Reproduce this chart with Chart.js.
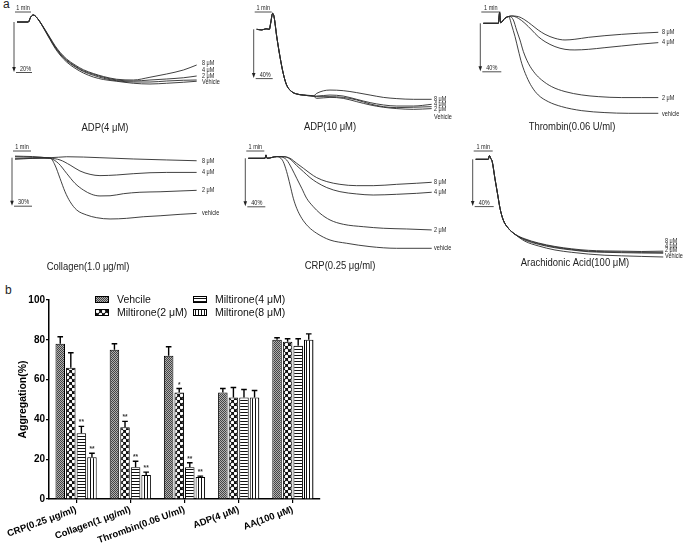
<!DOCTYPE html>
<html>
<head>
<meta charset="utf-8">
<script src="https://cdn.jsdelivr.net/npm/chart.js@4.4.1/dist/chart.umd.min.js"></script>
<style>
  body { margin: 0; background: #fff; }
  #wrap { position: relative; width: 685px; height: 547px; overflow: hidden; font-family: Arial, "Liberation Sans", sans-serif; }
  canvas { position: absolute; }
  .tag { position: absolute; font-size: 12px; color: #222; }
</style>
</head>
<body>
<div id="wrap">
  <div class="tag" style="left:3px;top:-3px">a</div>
  <div class="tag" style="left:5px;top:283px">b</div>
  <canvas id="adp4" width="230" height="140" style="left:0;top:0"></canvas>
  <canvas id="adp10" width="230" height="140" style="left:230px;top:0"></canvas>
  <canvas id="thrombin" width="230" height="140" style="left:455px;top:0"></canvas>
  <canvas id="collagen" width="230" height="140" style="left:0;top:135px"></canvas>
  <canvas id="crp" width="230" height="140" style="left:230px;top:135px"></canvas>
  <canvas id="aa" width="230" height="140" style="left:455px;top:135px"></canvas>
  <canvas id="bars" width="335" height="267" style="left:0;top:280px"></canvas>
</div>
<script>
Chart.defaults.font.family = 'Arial, "Liberation Sans", sans-serif';

// ---- panel a: aggregation traces, [minutes, % aggregation] ----
const adp4Lead = [[0, 0], [0.71, 0], [0.85, -1.9], [1.02, -2.8], [1.19, -2.1], [1.44, 0]];
const adp4M8 = [[1.75, 3.0], [2.06, 6.2], [2.38, 9.5], [2.69, 12.1], [3.1, 14.8], [3.63, 17.2], [4.15, 19.1], [4.77, 20.6], [5.4, 21.8], [6.23, 22.9], [7.27, 23.2], [8.31, 22.1], [9.35, 20.8], [10.4, 19.2], [11.23, 17.2]];
const adp4M4 = [[1.75, 3.2], [2.06, 6.5], [2.38, 9.9], [2.69, 12.5], [3.1, 15.2], [3.63, 17.6], [4.15, 19.5], [4.77, 20.9], [5.4, 22.1], [6.23, 23.2], [7.27, 23.6], [8.31, 23.2], [9.35, 22.8], [10.4, 22.3], [11.23, 21.6]];
const adp4M2 = [[1.75, 3.3], [2.06, 6.7], [2.38, 10.1], [2.69, 12.8], [3.1, 15.5], [3.63, 17.9], [4.15, 19.8], [4.77, 21.3], [5.4, 22.5], [6.23, 23.5], [7.27, 24], [8.31, 24], [9.35, 23.6], [10.4, 23.3], [11.23, 23.2]];
const adp4Veh = [[1.75, 3.5], [2.06, 7.0], [2.38, 10.5], [2.69, 13.2], [3.1, 16], [3.63, 18.5], [4.15, 20.4], [4.77, 22], [5.4, 23], [6.23, 23.7], [7.27, 24.5], [8.31, 24.8], [9.35, 24.5], [10.4, 24.1], [11.23, 23.7]];

const adp10Lead = [[0, 0], [0.3, 0.5], [0.55, -0.4], [0.745, 0], [0.82, -4.9], [0.94, -13.1], [1.02, -10.3], [1.18, 6.1], [1.37, 22.5], [1.56, 36.1], [1.76, 45.7], [2.06, 51.1], [2.35, 53], [2.74, 53.9], [3.33, 54.7]];
const adp10M8 = [[3.53, 52.5], [4.31, 49.8], [5.09, 50.3], [5.88, 51.9], [6.67, 53.9], [7.45, 55.8], [8.24, 56.8], [9.22, 57.4], [10.29, 57.4]];
const adp10M4 = [[3.53, 54.7], [4.31, 53.9], [5.09, 54.7], [5.88, 57.4], [6.67, 60.1], [7.45, 62], [8.24, 62.9], [9.22, 62.9], [10.29, 61.5]];
const adp10M2 = [[3.53, 55.2], [4.31, 55.2], [5.09, 55.8], [5.88, 57.9], [6.67, 61.2], [7.45, 63.4], [8.24, 64.2], [9.22, 63.9], [10.29, 63.4]];
const adp10Veh = [[3.53, 56.6], [4.31, 55.8], [5.09, 56.6], [5.88, 59.3], [6.67, 62], [7.45, 63.9], [8.24, 65], [9.22, 65.6], [10.29, 65]];

const thrLead = [[0, 0], [0.79, 0], [0.86, -9], [0.91, -0.5], [1.14, -4.2], [1.32, -5.6]];
const thrM8 = [[1.49, -6.1], [1.84, -5.6], [2.19, -2.8], [2.55, 1.4], [2.89, 5.6], [3.25, 9.2], [3.77, 12.5], [4.3, 13.9], [4.82, 13.3], [5.53, 11.7], [6.4, 10.3], [7.28, 9.2], [8.16, 8.3], [9.21, 7.5]];
const thrM4 = [[1.49, -6.1], [1.84, -4.2], [2.19, 0], [2.55, 5.6], [2.89, 11.1], [3.25, 15.3], [3.77, 19.4], [4.3, 21.7], [4.82, 22.2], [5.53, 21.7], [6.4, 20.3], [7.28, 18.9], [8.16, 17.5], [9.21, 16.1]];
const thrM2 = [[1.4, -5.6], [1.58, -2.8], [1.75, 5.6], [1.93, 13.9], [2.11, 23.6], [2.37, 33.3], [2.72, 41.7], [3.07, 47.2], [3.6, 52.8], [4.3, 56.9], [5.18, 59.7], [6.05, 61.1], [7.28, 61.9], [8.33, 61.9], [9.21, 61.9]];
const thrVeh = [[1.37, -5], [1.49, 1.4], [1.67, 11.1], [1.84, 22.2], [2.02, 33.3], [2.28, 44.4], [2.55, 52.8], [2.89, 59.7], [3.42, 65.3], [4.12, 69.4], [5.18, 72.8], [6.4, 74.4], [7.63, 75], [9.21, 75]];

const colM8 = [[0, -0.6], [1.94, 0], [2.87, -0.6], [3.8, -0.4], [4.72, 0], [6.57, 0.8], [8.43, 1.4], [10.09, 1.9]];
const colM4 = [[0, 0.4], [1.94, 0.4], [2.5, 1.4], [3.06, 4.6], [3.61, 8.3], [4.17, 10.4], [4.72, 11.2], [5.65, 10.8], [6.57, 10], [7.5, 9.4], [8.43, 9.2], [10.09, 9.2]];
const colM2 = [[0, -1], [1.94, 0.4], [2.41, 3.5], [2.87, 9.8], [3.33, 16], [3.8, 20.2], [4.26, 22.9], [4.72, 23.9], [5.28, 23.8], [6.02, 22.5], [6.94, 21.6], [8.06, 21.3], [9.17, 20.8], [10.09, 20.4]];
const colVeh = [[0, 1], [1.94, 0], [2.22, 4.6], [2.5, 12.9], [2.78, 21.3], [3.06, 27.5], [3.43, 32.7], [3.98, 35.8], [4.54, 37.5], [5.28, 38.3], [6.2, 37.9], [7.13, 36.9], [8.06, 36.3], [9.17, 35.4], [10.09, 34.8]];

const crpLead = [[0, 0], [0.93, 0], [0.98, -2.8], [1.04, 0], [1.58, -1.4]];
const crpM8 = [[1.94, -1.4], [2.32, 0], [2.69, 4.2], [3.06, 8.3], [3.43, 12.5], [3.8, 16.1], [4.36, 19.4], [5.09, 21.7], [6.02, 22.8], [6.94, 22.8], [8.24, 21.7], [9.35, 20.8], [10.19, 20]];
const crpM4 = [[1.94, -1.4], [2.32, 0.6], [2.69, 6.1], [3.06, 11.1], [3.43, 16.1], [3.8, 20], [4.36, 24.4], [5.09, 27.8], [6.02, 29.7], [6.94, 30.6], [8.24, 30], [9.35, 29.2], [10.19, 28.3]];
const crpM2 = [[1.85, -1.1], [2.13, 1.4], [2.41, 8.3], [2.69, 16.7], [2.97, 25], [3.24, 33.3], [3.61, 40.3], [3.98, 45.8], [4.54, 51.4], [5.28, 55], [6.39, 57], [7.5, 58.3], [8.8, 58.9], [10.19, 59.7]];
const crpVeh = [[1.76, -0.6], [1.94, 2.8], [2.13, 11.1], [2.32, 22.2], [2.5, 33.3], [2.69, 41.7], [2.97, 50], [3.33, 56.9], [3.8, 62.5], [4.54, 68.1], [5.46, 70.8], [6.76, 73.6], [8.24, 75], [10.19, 75]];

const aaLead = [[0, 0], [0.66, 0], [0.72, -3.1], [0.79, -0.8], [0.87, 2], [1.01, 16.2], [1.16, 30.5], [1.28, 41.9], [1.45, 51.9], [1.72, 59], [2.07, 64.1]];
const aaM8 = [[2.59, 68], [3.29, 71.5], [4.17, 74.5], [5.05, 76.5], [5.93, 77.8], [6.8, 78.3], [7.68, 78.5], [8.73, 78.8], [9.87, 78.5]];
const aaM4 = [[2.59, 68.5], [3.29, 72], [4.17, 75], [5.05, 77], [5.93, 78.5], [6.8, 79], [7.68, 79.2], [8.73, 79.5], [9.87, 79.5]];
const aaM2 = [[2.59, 69], [3.29, 72.6], [4.17, 75.6], [5.05, 77.5], [5.93, 79], [6.8, 79.5], [7.68, 79.8], [8.73, 80.1], [9.87, 80.3]];
const aaVeh = [[2.59, 70], [3.29, 74], [4.17, 77.5], [5.05, 79.5], [5.93, 81], [6.8, 82], [7.68, 82.5], [8.73, 83], [9.87, 83.5]];

const doseNames = ['8 μM', '4 μM', '2 μM'];

// ---- panel b: bar chart ----
const barCategories = ['CRP(0.25 μg/ml)', 'Collagen(1 μg/ml)', 'Thrombin(0.06 U/ml)', 'ADP(4 μM)', 'AA(100 μM)'];
const barSeries = ['Vehcile', 'Miltirone(2 μM)', 'Miltirone(4 μM)', 'Miltirone(8 μM)'];
const vehicleMean = [78, 75, 72, 53.5, 80];
const vehicleErr = [3.5, 3, 4.5, 2, 1];
const milt2Mean = [66, 36, 53.5, 51, 79];
const milt2Err = [7.5, 3, 2, 5, 1.5];
const milt4Mean = [33, 16, 16, 51, 77];
const milt4Err = [3.5, 3, 2.2, 4, 3.5];
const milt8Mean = [21, 12, 11, 51, 80];
const milt8Err = [2, 1.5, 0.5, 3.5, 3];
const milt2Sig = ['', '**', '*', '', ''];
const milt4Sig = ['**', '**', '**', '', ''];
const milt8Sig = ['**', '**', '**', '', ''];
const yTicks = [0, 20, 40, 60, 80, 100];

const FONT = 'Arial, "Liberation Sans", sans-serif';

// text squeezed horizontally, the scanned figure is narrower than plain Arial
function narrowText(ctx, text, x, y, align, squeeze) {
  ctx.save();
  ctx.translate(x, y);
  ctx.scale(squeeze, 1);
  ctx.textAlign = align;
  ctx.fillText(text, 0, 0);
  ctx.restore();
}

function tracePanel(id, p) {
  const canvas = document.getElementById(id);
  const W = canvas.width, H = canvas.height;
  const datasets = p.series.map((pts) => ({
    data: pts.map(([x, y]) => ({ x, y })),
    borderColor: '#2b2b2b',
    borderWidth: 0.9,
    pointRadius: 0,
    fill: false,
    cubicInterpolationMode: 'monotone',
  }));

  const decor = {
    id: 'decor',
    afterDraw(chart) {
      const { ctx, scales: { x, y } } = chart;
      const bx0 = x.getPixelForValue(0) - 2;
      const bx1 = x.getPixelForValue(1) - 2;
      const ax = x.getPixelForValue(0) - 3;
      const ay0 = y.getPixelForValue(0);
      const ay1 = y.getPixelForValue(p.pct);
      ctx.save();
      ctx.strokeStyle = '#222';
      ctx.fillStyle = '#222';
      ctx.lineWidth = 0.8;
      ctx.beginPath();
      ctx.moveTo(bx0, p.barY); ctx.lineTo(bx1, p.barY);
      ctx.moveTo(ax, ay0); ctx.lineTo(ax, ay1 - 4);
      ctx.moveTo(ax + 2, ay1 + 0.5); ctx.lineTo(ax + 2 + (bx1 - bx0), ay1 + 0.5);
      ctx.stroke();
      ctx.beginPath();
      ctx.moveTo(ax - 1.8, ay1 - 5); ctx.lineTo(ax + 1.8, ay1 - 5); ctx.lineTo(ax, ay1);
      ctx.closePath(); ctx.fill();

      ctx.font = '6.5px ' + FONT;
      ctx.textBaseline = 'alphabetic';
      narrowText(ctx, '1 min', (bx0 + bx1) / 2, p.barY - 2, 'center', 0.85);
      narrowText(ctx, p.pct + '%', ax + 6, ay1 - 1.5, 'left', 0.85);

      ctx.textBaseline = 'middle';
      const names = doseNames.concat([p.vehicleName]);
      names.forEach((n, i) => narrowText(ctx, n, p.labelX, p.labelY[i], 'left', 0.85));

      ctx.font = '11px ' + FONT;
      narrowText(ctx, p.title, p.titleX, p.titleY, 'center', 0.86);
      ctx.restore();
    },
  };

  new Chart(canvas, {
    type: 'line',
    data: { datasets },
    options: {
      responsive: false,
      animation: false,
      events: [],
      layout: { padding: 0 },
      plugins: { legend: { display: false }, tooltip: { enabled: false } },
      scales: {
        x: { type: 'linear', display: false, min: -p.x0 / p.pxMin, max: (W - p.x0) / p.pxMin },
        y: { type: 'linear', display: false, reverse: true, min: -p.y0 / p.pxPct, max: (H - p.y0) / p.pxPct },
      },
    },
    plugins: [decor],
  });
}

tracePanel('adp4', {
  series: [adp4Lead.concat(adp4M8), adp4Lead.concat(adp4M4), adp4Lead.concat(adp4M2), adp4Lead.concat(adp4Veh)],
  x0: 17, y0: 22, pxMin: 16, pxPct: 2.5, pct: 20, barY: 12,
  labelX: 202, labelY: [63, 70, 76, 82], vehicleName: 'Vehicle',
  title: 'ADP(4 μM)', titleX: 105, titleY: 128,
});
tracePanel('adp10', {
  series: [adp10Lead.concat(adp10M8), adp10Lead.concat(adp10M4), adp10Lead.concat(adp10M2), adp10Lead.concat(adp10Veh)],
  x0: 26.7, y0: 29.3, pxMin: 17, pxPct: 1.22, pct: 40, barY: 12,
  labelX: 204, labelY: [99, 104, 109, 117], vehicleName: 'Vehicle',
  title: 'ADP(10 μM)', titleX: 100, titleY: 127,
});
tracePanel('thrombin', {
  series: [thrLead.concat(thrM8), thrLead.concat(thrM4), thrLead.concat(thrM2), thrLead.concat(thrVeh)],
  x0: 28.3, y0: 23.3, pxMin: 19, pxPct: 1.2, pct: 40, barY: 12,
  labelX: 207, labelY: [32, 42, 98, 114], vehicleName: 'vehicle',
  title: 'Thrombin(0.06 U/ml)', titleX: 117, titleY: 127,
});
tracePanel('collagen', {
  series: [colM8, colM4, colM2, colVeh],
  x0: 15, y0: 22.7, pxMin: 18, pxPct: 1.6, pct: 30, barY: 16,
  labelX: 202, labelY: [26, 37, 55, 78], vehicleName: 'vehicle',
  title: 'Collagen(1.0 μg/ml)', titleX: 88, titleY: 132,
});
tracePanel('crp', {
  series: [crpLead.concat(crpM8), crpLead.concat(crpM4), crpLead.concat(crpM2), crpLead.concat(crpVeh)],
  x0: 18.3, y0: 23.3, pxMin: 18, pxPct: 1.2, pct: 40, barY: 16,
  labelX: 204, labelY: [47, 57, 95, 113], vehicleName: 'vehicle',
  title: 'CRP(0.25 μg/ml)', titleX: 110, titleY: 131,
});
tracePanel('aa', {
  series: [aaLead.concat(aaM8), aaLead.concat(aaM4), aaLead.concat(aaM2), aaLead.concat(aaVeh)],
  x0: 20.7, y0: 24.3, pxMin: 19, pxPct: 1.17, pct: 40, barY: 16,
  labelX: 210, labelY: [106, 111, 115, 121], vehicleName: 'Vehicle',
  title: 'Arachidonic Acid(100 μM)', titleX: 120, titleY: 128,
});

// ---- bar chart fills ----
function makePattern(kind) {
  const c = document.createElement('canvas');
  const g = c.getContext('2d');
  if (kind === 'grain') {
    c.width = c.height = 2;
    g.fillStyle = '#b0b0b0'; g.fillRect(0, 0, 2, 2);
    g.fillStyle = '#444'; g.fillRect(0, 0, 1, 1); g.fillRect(1, 1, 1, 1);
  } else if (kind === 'check') {
    c.width = c.height = 6;
    g.fillStyle = '#111'; g.fillRect(0, 0, 6, 6);
    g.fillStyle = '#fff';
    g.beginPath(); g.arc(1.5, 1.5, 1.75, 0, Math.PI * 2); g.fill();
    g.beginPath(); g.arc(4.5, 4.5, 1.75, 0, Math.PI * 2); g.fill();
  } else if (kind === 'hlines') {
    c.width = c.height = 3;
    g.fillStyle = '#fff'; g.fillRect(0, 0, 3, 3);
    g.fillStyle = '#111'; g.fillRect(0, 0, 3, 1);
  } else {
    c.width = c.height = 3;
    g.fillStyle = '#fff'; g.fillRect(0, 0, 3, 3);
    g.fillStyle = '#111'; g.fillRect(0, 0, 1, 3);
  }
  return g.createPattern(c, 'repeat');
}

const barFills = [makePattern('grain'), makePattern('check'), makePattern('hlines'), makePattern('vlines')];
const barMeans = [vehicleMean, milt2Mean, milt4Mean, milt8Mean];
const barErrs = [vehicleErr, milt2Err, milt4Err, milt8Err];
const barSigs = [['', '', '', '', ''], milt2Sig, milt4Sig, milt8Sig];

const errorBars = {
  id: 'errorBars',
  afterDatasetsDraw(chart) {
    const { ctx, scales: { y } } = chart;
    ctx.save();
    ctx.strokeStyle = '#000';
    ctx.fillStyle = '#333';
    ctx.lineWidth = 1.4;
    chart.data.datasets.forEach((ds, i) => {
      chart.getDatasetMeta(i).data.forEach((bar, j) => {
        const top = y.getPixelForValue(barMeans[i][j] + barErrs[i][j]);
        ctx.beginPath();
        ctx.moveTo(bar.x, bar.y);
        ctx.lineTo(bar.x, top);
        ctx.moveTo(bar.x - 2.8, top);
        ctx.lineTo(bar.x + 2.8, top);
        ctx.stroke();
        if (barSigs[i][j]) {
          ctx.font = 'bold 6.5px ' + FONT;
          ctx.textAlign = 'center';
          ctx.textBaseline = 'alphabetic';
          ctx.fillText(barSigs[i][j], bar.x, top - 2);
        }
      });
    });
    ctx.restore();
  },
};

const gridLegend = {
  id: 'gridLegend',
  afterDraw(chart) {
    const { ctx } = chart;
    const spots = [[95, 16], [95, 29], [193, 16], [193, 29]];
    ctx.save();
    ctx.font = '10.5px ' + FONT;
    ctx.textBaseline = 'middle';
    ctx.textAlign = 'left';
    barSeries.forEach((name, i) => {
      const [sx, sy] = spots[i];
      ctx.fillStyle = barFills[i];
      ctx.fillRect(sx, sy, 14, 7);
      ctx.strokeStyle = '#000';
      ctx.lineWidth = 1;
      ctx.strokeRect(sx + 0.5, sy + 0.5, 13, 6);
      ctx.fillStyle = '#111';
      ctx.fillText(name, sx + 22, sy + 4);
    });
    ctx.restore();
  },
};

const tickFont = { size: 10, weight: 'bold' };

new Chart(document.getElementById('bars'), {
  type: 'bar',
  data: {
    labels: barCategories,
    datasets: barSeries.map((name, i) => ({
      label: name,
      data: barMeans[i],
      backgroundColor: barFills[i],
      borderColor: '#000',
      borderWidth: 1,
      categoryPercentage: 0.78,
      barPercentage: 0.9,
    })),
  },
  options: {
    responsive: false,
    animation: false,
    events: [],
    layout: { padding: { top: 20, right: 15, left: 0, bottom: 0 } },
    plugins: { legend: { display: false }, tooltip: { enabled: false } },
    scales: {
      x: {
        grid: { display: true, drawOnChartArea: false, drawTicks: true, tickLength: 4, color: '#000', offset: false, lineWidth: 1.2 },
        border: { display: true, color: '#000', width: 1.5 },
        ticks: { font: { size: 9.5, weight: 'bold' }, color: '#000', minRotation: 20, maxRotation: 20, padding: 1 },
        afterFit(s) { s.height = 48; },
      },
      y: {
        min: 0,
        max: 100,
        afterBuildTicks(s) { s.ticks = yTicks.map((v) => ({ value: v })); },
        ticks: { font: tickFont, color: '#000', padding: 1 },
        grid: { display: true, drawOnChartArea: false, drawTicks: true, tickLength: 3, color: '#000', lineWidth: 1.2 },
        border: { display: true, color: '#000', width: 1.5 },
        title: { display: true, text: 'Aggregation(%)', color: '#000', font: { size: 10.5, weight: 'bold' }, padding: { top: 17, bottom: 0 } },
        afterFit(s) { s.width = 49; },
      },
    },
  },
  plugins: [errorBars, gridLegend],
});
</script>
</body>
</html>
